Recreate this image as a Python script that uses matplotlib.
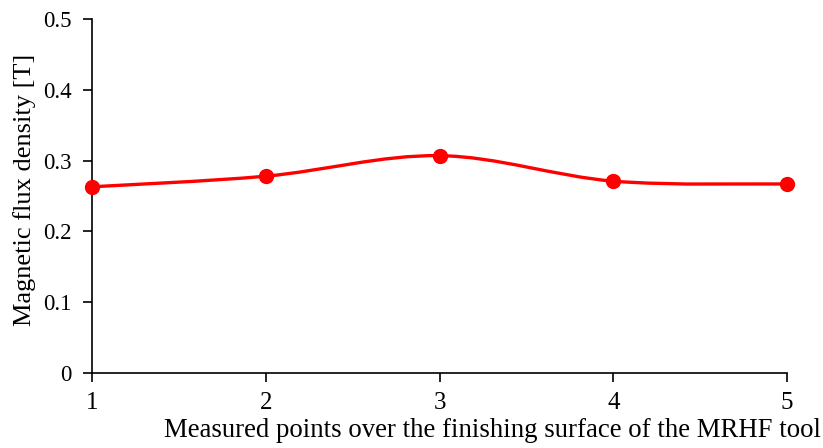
import numpy as np
import matplotlib
matplotlib.use("Agg")
import matplotlib.pyplot as plt
from matplotlib.path import Path
from matplotlib.patches import PathPatch

plt.rcParams['font.family'] = ['Liberation Serif', 'DejaVu Serif']

points = [1, 2, 3, 4, 5]
flux_density = [0.263, 0.278, 0.307, 0.271, 0.267]
y_ticks = [0, 0.1, 0.2, 0.3, 0.4, 0.5]
y_tick_labels = ["0", "0.1", "0.2", "0.3", "0.4", "0.5"]

fig = plt.figure(figsize=(8.23, 4.48), dpi=100)
ax = fig.add_axes([0.1118, 0.1674, 0.8445, 0.7902])

# Smoothed curve through the points (cubic Bezier, Catmull-Rom style tangents)
x = np.array(points, dtype=float)
y = np.array(flux_density, dtype=float)
verts = [(x[0], y[0])]
codes = [Path.MOVETO]
n = len(x)
for i in range(n - 1):
    p0 = (x[i - 1], y[i - 1]) if i > 0 else (x[i], y[i])
    p1 = (x[i], y[i])
    p2 = (x[i + 1], y[i + 1])
    p3 = (x[i + 2], y[i + 2]) if i + 2 < n else (x[i + 1], y[i + 1])
    c1 = (p1[0] + (p2[0] - p0[0]) / 6, p1[1] + (p2[1] - p0[1]) / 6)
    c2 = (p2[0] - (p3[0] - p1[0]) / 6, p2[1] - (p3[1] - p1[1]) / 6)
    verts += [c1, c2, p2]
    codes += [Path.CURVE4] * 3
ax.add_patch(PathPatch(Path(verts, codes), facecolor='none', edgecolor='#ff0000',
                       lw=2.4, clip_on=False, zorder=3))
ax.plot(points, flux_density, 'o', color='#ff0000', markersize=10, clip_on=False, zorder=4)

ax.set_xlim(1, 5)
ax.set_ylim(0, 0.5)
ax.set_xticks(points)
ax.set_yticks(y_ticks)
ax.set_yticklabels(y_tick_labels)
for side in ['top', 'right']:
    ax.spines[side].set_visible(False)
for side in ['left', 'bottom']:
    ax.spines[side].set_linewidth(1.2)
ax.tick_params(axis='both', length=6.5, width=1.2, direction='out')
ax.tick_params(axis='x', labelsize=18, pad=7)
ax.tick_params(axis='y', labelsize=16.5, pad=8)

fig.text(0.997, 0.0246, "Measured points over the finishing surface of the MRHF tool",
         ha='right', va='baseline', fontsize=19.3)
fig.text(0.030, 0.576, "Magnetic flux density [T]", rotation=90,
         ha='center', va='center', fontsize=19)

fig.savefig("out.png", dpi=100)
